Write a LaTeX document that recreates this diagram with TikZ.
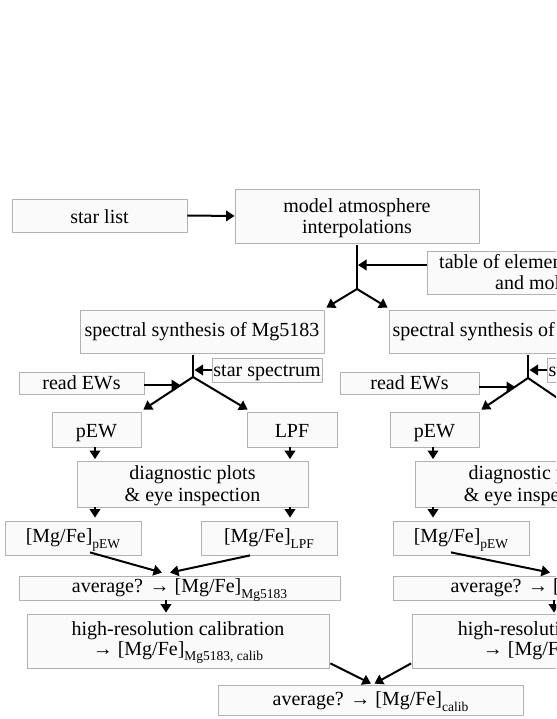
\documentclass[tikz,border=0pt]{standalone}
\usepackage{fontspec}
\setmainfont{Liberation Serif}
\usetikzlibrary{arrows.meta}
\newcommand\sbs[1]{\raisebox{-5.5pt}{\fontsize{13.5}{14}\selectfont #1}}
\begin{document}
\begin{tikzpicture}[x=1pt,y=-1pt,
  box/.style={draw=black!30, fill=black!2, line width=0.8pt, inner sep=0pt},
  lbl/.style={inner sep=0pt, anchor=base, font=\fontsize{20}{22}\selectfont},
  lblw/.style={lbl, anchor=base west},
  arr/.style={line width=2pt, -{Triangle[length=8.5pt,width=10.5pt]}},
  ln/.style={line width=2pt}
]
\useasboundingbox (0,0) rectangle (556,719);
\clip (0,0) rectangle (556,719);
\fill[white] (0,0) rectangle (556,719);

% ---------- boxes ----------
\node[box, minimum width=175pt, minimum height=33pt] (star) at (99.5,215.5) {};
\node[box, minimum width=244pt, minimum height=54pt] (model) at (357,216) {};
\node[box, minimum width=252pt, minimum height=43pt] (table) at (553,272.5) {};
\node[box, minimum width=244pt, minimum height=43pt] (spec1) at (202,331.5) {};
\node[box, minimum width=244pt, minimum height=43pt] (spec2) at (511,331.5) {};
\node[box, minimum width=110pt, minimum height=24pt] (ss1) at (267,370) {};
\node[box, minimum width=110pt, minimum height=24pt] (ss2) at (602,370) {};
\node[box, minimum width=125pt, minimum height=22pt] (rew1) at (81.5,383) {};
\node[box, minimum width=139pt, minimum height=22pt] (rew2) at (409.5,383) {};
\node[box, minimum width=89pt, minimum height=35pt] (pew1) at (96.5,429.5) {};
\node[box, minimum width=90pt, minimum height=35pt] (lpf1) at (292,429.5) {};
\node[box, minimum width=89pt, minimum height=35pt] (pew2) at (434.5,429.5) {};
\node[box, minimum width=231pt, minimum height=46pt] (diag1) at (192.5,484) {};
\node[box, minimum width=231pt, minimum height=46pt] (diag2) at (530.5,484) {};
\node[box, minimum width=136pt, minimum height=34pt] (mgp1) at (73,538) {};
\node[box, minimum width=136pt, minimum height=34pt] (mgl1) at (269,538) {};
\node[box, minimum width=136pt, minimum height=34pt] (mgp2) at (461,538) {};
\node[box, minimum width=321pt, minimum height=24pt] (avg1) at (179.5,588) {};
\node[box, minimum width=325pt, minimum height=24pt] (avg2) at (555.5,588) {};
\node[box, minimum width=302pt, minimum height=54pt] (hr1) at (178,641) {};
\node[box, minimum width=302pt, minimum height=54pt] (hr2) at (563,641) {};
\node[box, minimum width=305pt, minimum height=30pt] (fin) at (370.5,700) {};

% ---------- texts ----------
\node[lbl] (star-t) at (99.5,223.3) {star list};
\node[lbl] (model-t1) at (357,212) {model atmosphere};
\node[lbl] (model-t2) at (357,233.3) {interpolations};
\node[lblw] (table-t1) at (439,268) {table of elements};
\node[lblw] (table-t2) at (495,289) {and molecules};
\node[lbl] (spec1-t) at (202,336.7) {spectral synthesis of Mg5183};
\node[lblw] (spec2-t) at (392.5,336.7) {spectral synthesis of};
\node[lbl] (ss1-t) at (267,376.7) {star spectrum};
\node[lblw] (ss2-t) at (548.5,376.7) {star spectrum};
\node[lbl] (rew1-t) at (81.5,389.3) {read EWs};
\node[lbl] (rew2-t) at (409.5,389.3) {read EWs};
\node[lbl] (pew1-t) at (96.5,437) {pEW};
\node[lbl] (lpf1-t) at (292,437) {LPF};
\node[lbl] (pew2-t) at (434.5,437) {pEW};
\node[lbl] (diag1-t1) at (192.5,479.3) {diagnostic plots};
\node[lbl] (diag1-t2) at (192.5,501.7) {\& eye inspection};
\node[lblw] (diag2-t1) at (468.5,479.3) {diagnostic plots};
\node[lblw] (diag2-t2) at (463.7,501.7) {\& eye inspection};
\node[lbl] (mgp1-t) at (73,542.7) {[Mg/Fe]\sbs{pEW}};
\node[lbl] (mgl1-t) at (269,542.7) {[Mg/Fe]\sbs{LPF}};
\node[lbl] (mgp2-t) at (461,542.7) {[Mg/Fe]\sbs{pEW}};
\node[lbl] (avg1-t) at (179.5,592.7) {average? → [Mg/Fe]\sbs{Mg5183}};
\node[lblw] (avg2-t) at (450.3,592.7) {average? → [Mg/Fe]};
\node[lbl] (hr1-t1) at (178,635) {high-resolution calibration};
\node[lbl] (hr1-t2) at (178,655) {→ [Mg/Fe]\sbs{Mg5183, calib}};
\node[lblw] (hr2-t1) at (457.7,635) {high-resolution calibration};
\node[lblw] (hr2-t2) at (482.7,655) {→ [Mg/Fe]};
\node[lbl] (fin-t) at (370.5,705.7) {average? → [Mg/Fe]\sbs{calib}};

% ---------- junction coordinates ----------
\coordinate (j1) at (357,289);
\coordinate (t1) at (358,265);
\coordinate (j2) at (193,377);
\coordinate (r1t) at (180,385);
\coordinate (s1t) at (194.5,370);
\coordinate (j3) at (528,378);
\coordinate (r2t) at (515,387);
\coordinate (s2t) at (529.5,370);
\coordinate (l2t) at (575,410);

% ---------- connectors ----------
\draw[arr] (star.east) -- (model.west);
\draw[ln] (model.south) ++(0,2) -- (j1);
\draw[arr] (table.west |- t1) -- (t1);
\draw[arr] (j1) -- ([shift={(2,-2)}]spec1.north east);
\draw[arr] (j1) -- ([shift={(-1,-2)}]spec2.north west);

% left column
\draw[ln] (spec1.south -| j2) ++(0,2) -- (j2);
\draw[arr] (ss1.west) -- (s1t);
\draw[arr] (rew1.east |- r1t) -- (r1t);
\draw[arr] (j2) -- ([shift={(2,-2)}]pew1.north east);
\draw[arr] (j2) -- ([shift={(1,-2)}]lpf1.north west);
\draw[arr, shorten >=1.5pt] ([xshift=-1.5pt]pew1.south) -- ([xshift=-1.5pt]pew1.south |- diag1.north);
\draw[arr, shorten >=1.5pt] ([xshift=-2pt]lpf1.south) -- ([xshift=-2pt]lpf1.south |- diag1.north);
\draw[arr, shorten >=3pt] ([xshift=-1.5pt]pew1.south |- diag1.south) -- ([xshift=-1.5pt]pew1.south |- mgp1.north);
\draw[arr, shorten >=3pt] ([xshift=-2pt]lpf1.south |- diag1.south) -- ([xshift=-2pt]lpf1.south |- mgl1.north);
\draw[arr] ([shift={(17,-3)}]mgp1.south) -- ([shift={(-17.5,-3)}]avg1.north);
\draw[arr] ([shift={(-19,0)}]mgl1.south) -- ([shift={(-9.5,-3)}]avg1.north);
\draw[arr, shorten >=1pt] ([xshift=-13.5pt]avg1.south) -- ([xshift=-13.5pt]avg1.south |- hr1.north);
\draw[arr] ([shift={(1,-5)}]hr1.south east) -- ([shift={(0.5,-1)}]fin.north);
\draw[arr] ([shift={(-0.5,-5)}]hr2.south west) -- ([shift={(4,-1)}]fin.north);

% right column
\draw[ln] (spec2.south -| j3) ++(0,2) -- (j3);
\draw[arr] (ss2.west) -- (s2t);
\draw[arr] (rew2.east |- r2t) -- (r2t);
\draw[arr] (j3) -- ([shift={(2,-2)}]pew2.north east);
\draw[arr] (j3) -- (l2t);
\draw[arr, shorten >=1.5pt] ([xshift=-1.5pt]pew2.south) -- ([xshift=-1.5pt]pew2.south |- diag2.north);
\draw[arr, shorten >=3pt] ([xshift=-1.5pt]pew2.south |- diag2.south) -- ([xshift=-1.5pt]pew2.south |- mgp2.north);
\draw[arr] ([shift={(-10,-3)}]mgp2.south) -- ([shift={(-5.5,-3)}]avg2.north);
\draw[arr, shorten >=1pt] ([xshift=-1.5pt]avg2.south) -- ([xshift=-1.5pt]avg2.south |- hr2.north);
\end{tikzpicture}
\end{document}
